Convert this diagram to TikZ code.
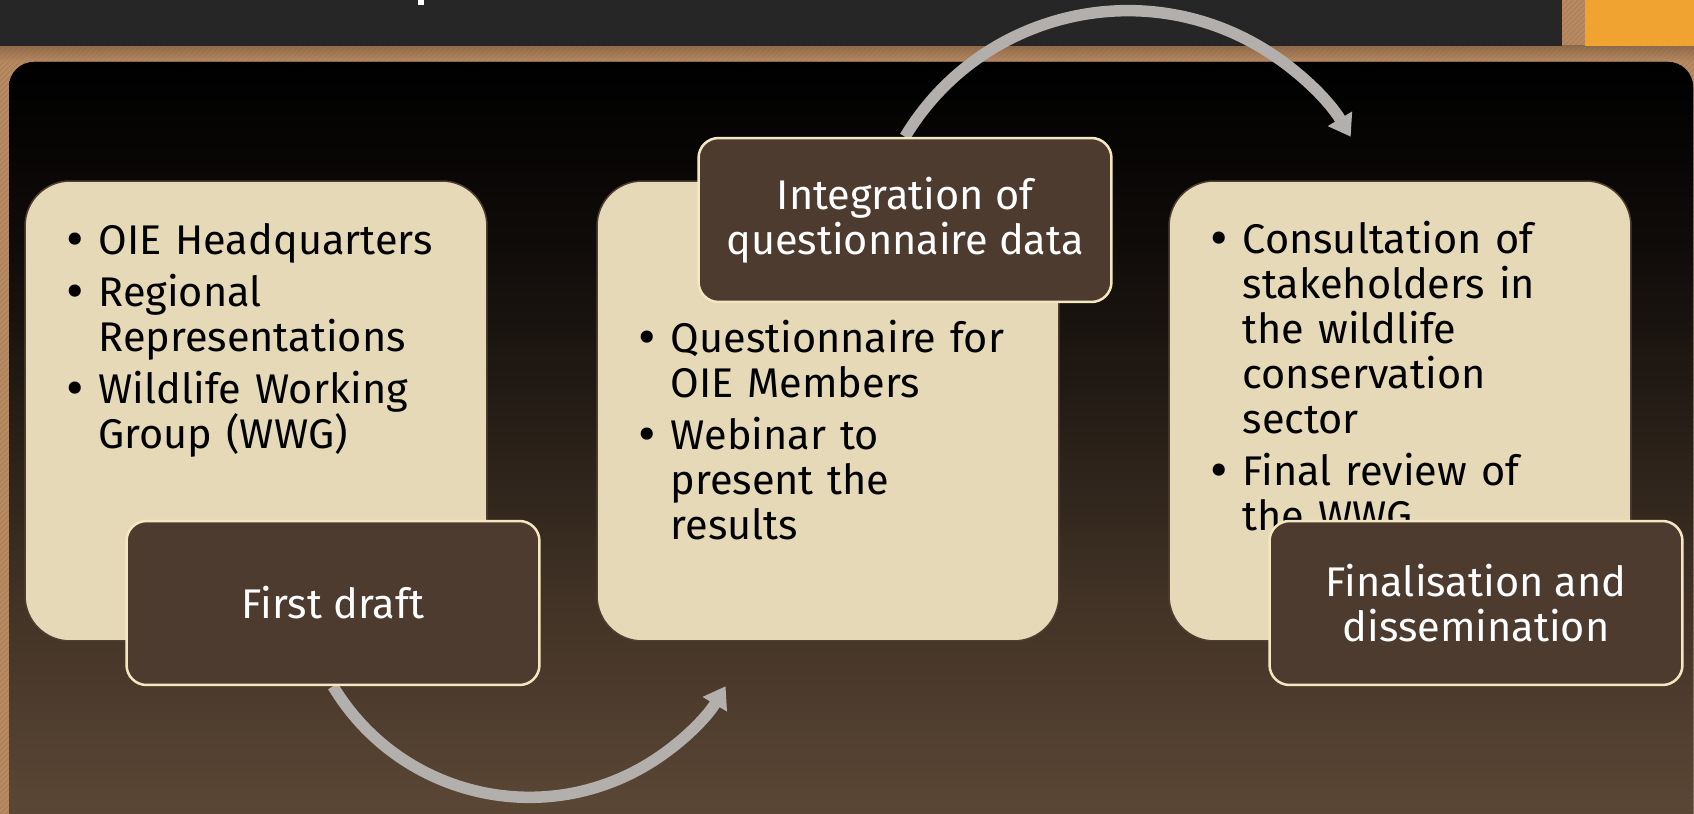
\documentclass[tikz,border=0pt]{standalone}
\usepackage{fontspec}
\setmainfont{Fira Sans}
\usetikzlibrary{arrows.meta,positioning,patterns}

\definecolor{barGrey}{RGB}{38,38,38}
\definecolor{tabOrange}{RGB}{240,163,48}
\definecolor{woodTan}{RGB}{184,138,98}
\definecolor{woodDark}{RGB}{150,110,76}
\definecolor{boxCream}{RGB}{229,217,184}
\definecolor{boxEdge}{RGB}{80,62,48}
\definecolor{labBrown}{RGB}{77,59,48}
\definecolor{labEdge}{RGB}{245,232,192}
\definecolor{flowGrey}{RGB}{178,175,172}
\definecolor{fadeA}{RGB}{92,72,54}
\definecolor{fadeB}{RGB}{66,51,38}
\definecolor{fadeC}{RGB}{36,28,21}
\definecolor{fadeD}{RGB}{16,12,10}

\pgfdeclareverticalshading{panelfade}{100bp}{color(0bp)=(fadeA); color(26bp)=(fadeA); color(40bp)=(fadeB); color(53bp)=(fadeC); color(63bp)=(fadeD); color(75bp)=(black); color(100bp)=(black)}

% one bullet paragraph, lines broken by hand
\newcommand{\bitem}[1]{\hangindent=0.64cm\hangafter=1\noindent\makebox[0.64cm][l]{\raisebox{-0.08em}{\scalebox{1.3}{\textbullet}}}#1\par}

\begin{document}
\begin{tikzpicture}[x=0.02cm, y=-0.02cm,
    cardbox/.style={fill=boxCream, draw=boxEdge, line width=0.03cm, rounded corners=0.9cm,
        minimum width=9.24cm, minimum height=9.2cm},
    cardtext/.style={text width=8.2cm, align=left, inner sep=0pt, anchor=base west,
        font=\fontsize{23.6pt}{25.6pt}\selectfont},
    stagelabel/.style={fill=labBrown, draw=labEdge, line width=0.05cm, rounded corners=0.4cm,
        minimum width=8.26cm, minimum height=3.28cm, text=white, align=center,
        font=\fontsize{23.6pt}{25.6pt}\selectfont},
    flowarrow/.style={draw=flowGrey, line width=0.23cm, -{Triangle[width=0.54cm,length=0.42cm]}}]
    \useasboundingbox (0,0) rectangle (1694,814);
    \clip (0,0) rectangle (1694,814);

    % Wood background
    \fill[woodTan] (0,0) rectangle (1694,814);
    \fill[pattern=north east lines, pattern color=woodDark, opacity=0.5] (0,0) rectangle (1694,814);
    \shade[top color=woodDark!80!black, bottom color=woodTan, opacity=0.6] (0,46) rectangle (1694,62);

    % Title bar and tab
    \fill[barGrey] (0,0) rectangle (1562,46);
    \fill[white] (418,0) rectangle (424,5);
    \fill[tabOrange] (1585,0) rectangle (1694,46);

    % Panel
    \fill[shading=panelfade, rounded corners=0.5cm] (9,840) rectangle (1693,62);

    % Boxes
    \node[cardbox] (box1) at (256,411) {};
    \node[cardbox] (box2) at (828,411) {};
    \node[cardbox] (box3) at (1400,411) {};

    % Box texts
    \node[cardtext] (txt1) at ([shift={(42,74)}]box1.north west) {\setlength{\parskip}{4pt}%
        \bitem{OIE Headquarters}\bitem{Regional\newline Representations}\bitem{Wildlife Working\newline Group (WWG)}};
    \node[cardtext] (txt2) at ([shift={(42,172)}]box2.north west) {\setlength{\parskip}{4pt}%
        \bitem{Questionnaire for\newline OIE Members}\bitem{Webinar to\newline present the\newline results}};
    \node[cardtext] (txt3) at ([shift={(42,73)}]box3.north west) {\setlength{\parskip}{4pt}%
        \bitem{Consultation of\newline stakeholders in\newline the wildlife\newline conservation\newline sector}\bitem{Final review of\newline the WWG}};

    % Stage labels
    \coordinate (lab1pos) at ([shift={(77,192)}]box1.center);
    \coordinate (lab2pos) at ([shift={(77,-191)}]box2.center);
    \coordinate (lab3pos) at ([shift={(76,192)}]box3.center);
    \path (lab1pos) node[stagelabel, opacity=0] (lab1) {} (lab2pos) node[stagelabel, opacity=0] (lab2) {};

    % Arrows
    \draw[flowarrow] (lab1.south) arc[start angle=149, end angle=31, radius=229] coordinate (tip1);
    \draw[flowarrow] (lab2.north) arc[start angle=211, end angle=329, radius=260] coordinate (tip2);

    \node[stagelabel] at (lab1pos) {First draft};
    \node[stagelabel] at (lab2pos) {Integration of\\questionnaire data};
    \node[stagelabel] (lab3) at (lab3pos) {Finalisation and\\dissemination};
\end{tikzpicture}
\end{document}
